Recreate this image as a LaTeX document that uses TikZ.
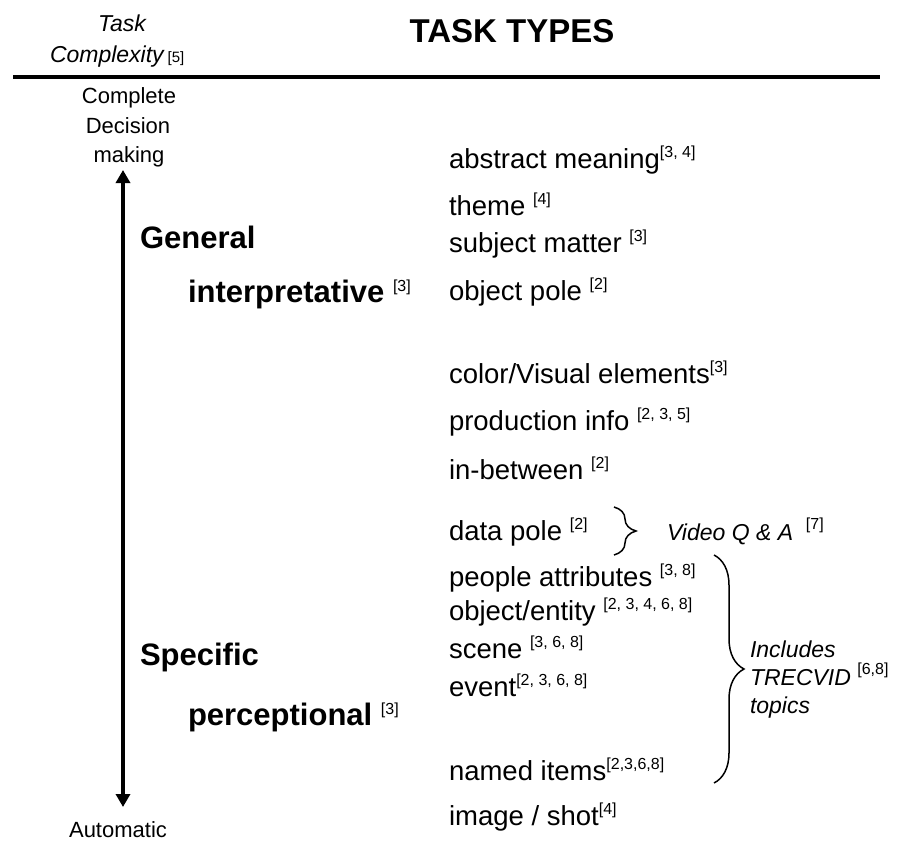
\documentclass[tikz,border=0pt]{standalone}
\usepackage{fontspec}
\setmainfont{Liberation Sans}
\usetikzlibrary{arrows.meta,decorations.pathreplacing}
% bracketed reference numbers set small and raised
\newcommand{\citeref}[1]{\raisebox{11pt}{\fontsize{16}{16}\selectfont\upshape\mdseries[#1]}}
\begin{document}
\begin{tikzpicture}[x=1pt,y=-1pt,
  every node/.style={inner sep=0pt,outer sep=0pt},
  item/.style={anchor=base west,font=\fontsize{27.5}{30}\selectfont},
  level/.style={anchor=base west,font=\bfseries\fontsize{31}{34}\selectfont},
  axislabel/.style={anchor=base,font=\fontsize{22}{24}\selectfont},
  note/.style={anchor=base west,font=\itshape\fontsize{23}{26}\selectfont},
  bracestyle/.style={draw,line width=1.5pt,decorate},
]
\useasboundingbox[fill=white] (0,0) rectangle (904,840);

% header
\node[anchor=base,font=\itshape\fontsize{23}{25}\selectfont] (task) at (122,32) {Task};
\node[anchor=base west,font=\itshape\fontsize{23}{25}\selectfont] (cplx) at (50,63) {Complexity\,{\upshape\fontsize{15}{15}\selectfont[5]}};
\node[anchor=base,font=\bfseries\fontsize{33}{36}\selectfont] (title) at (512,43) {TASK TYPES};
\coordinate (ruleL) at (13,77);
\coordinate (ruleR) at (880,77);
\draw[line width=4pt] (ruleL) -- (ruleR);

% complexity axis
\node[axislabel] (cdm1) at (129,104) {Complete};
\node[axislabel] (cdm2) at (128,133) {Decision};
\node[axislabel] (cdm3) at (129,162) {making};
\node[axislabel] (auto) at (118,837) {Automatic};
\coordinate (atop) at (123,170);
\coordinate (abot) at (123,807);
\draw[line width=4pt,{Triangle[width=14pt,length=13pt]}-{Triangle[width=14pt,length=13pt]}] (atop) -- (abot);

% task levels
\node[level] (gen) at (140,248) {General};
\node[level] (interp) at (188,302) {interpretative \citeref{3}};
\node[level] (spec) at (140,665) {Specific};
\node[level] (perc) at (188,725) {perceptional \citeref{3}};

% task types
\node[item] (t1) at (449,168) {abstract meaning\citeref{3, 4}};
\node[item] (t2) at (449,215) {theme \citeref{4}};
\node[item] (t3) at (449,252) {subject matter \citeref{3}};
\node[item] (t4) at (449,300) {object pole \citeref{2}};
\node[item] (t5) at (449,383) {color/Visual elements\citeref{3}};
\node[item] (t6) at (449,430) {production info \citeref{2, 3, 5}};
\node[item] (t7) at (449,479) {in-between \citeref{2}};
\node[item] (t8) at (449,540) {data pole \citeref{2}};
\node[item] (t9) at (449,586) {people attributes \citeref{3, 8}};
\node[item] (t10) at (449,620) {object/entity \citeref{2, 3, 4, 6, 8}};
\node[item] (t11) at (449,658) {scene \citeref{3, 6, 8}};
\node[item] (t12) at (449,696) {event\citeref{2, 3, 6, 8}};
\node[item] (t13) at (449,780) {named items\citeref{2,3,6,8}};
\node[item] (t14) at (449,825) {image / shot\citeref{4}};

% small brace: Video Q & A
\coordinate (b1t) at (614,507);
\coordinate (b1b) at (614,555);
\draw[bracestyle,decoration={brace,amplitude=22pt}] (b1t) -- (b1b);
\node[note] (vqa) at (667,540) {Video Q \& A \ \citeref{7}};

% large brace: TRECVID topics
\coordinate (b2t) at (714,555);
\coordinate (b2b) at (714,783);
\draw[bracestyle,decoration={brace,amplitude=30pt}] (b2t) -- (b2b);
\node[note] (inc) at (750,657) {Includes};
\node[note] (trec) at (750,685) {TRECVID \citeref{6,8}};
\node[note] (top) at (750,713) {topics};
\end{tikzpicture}
\end{document}
